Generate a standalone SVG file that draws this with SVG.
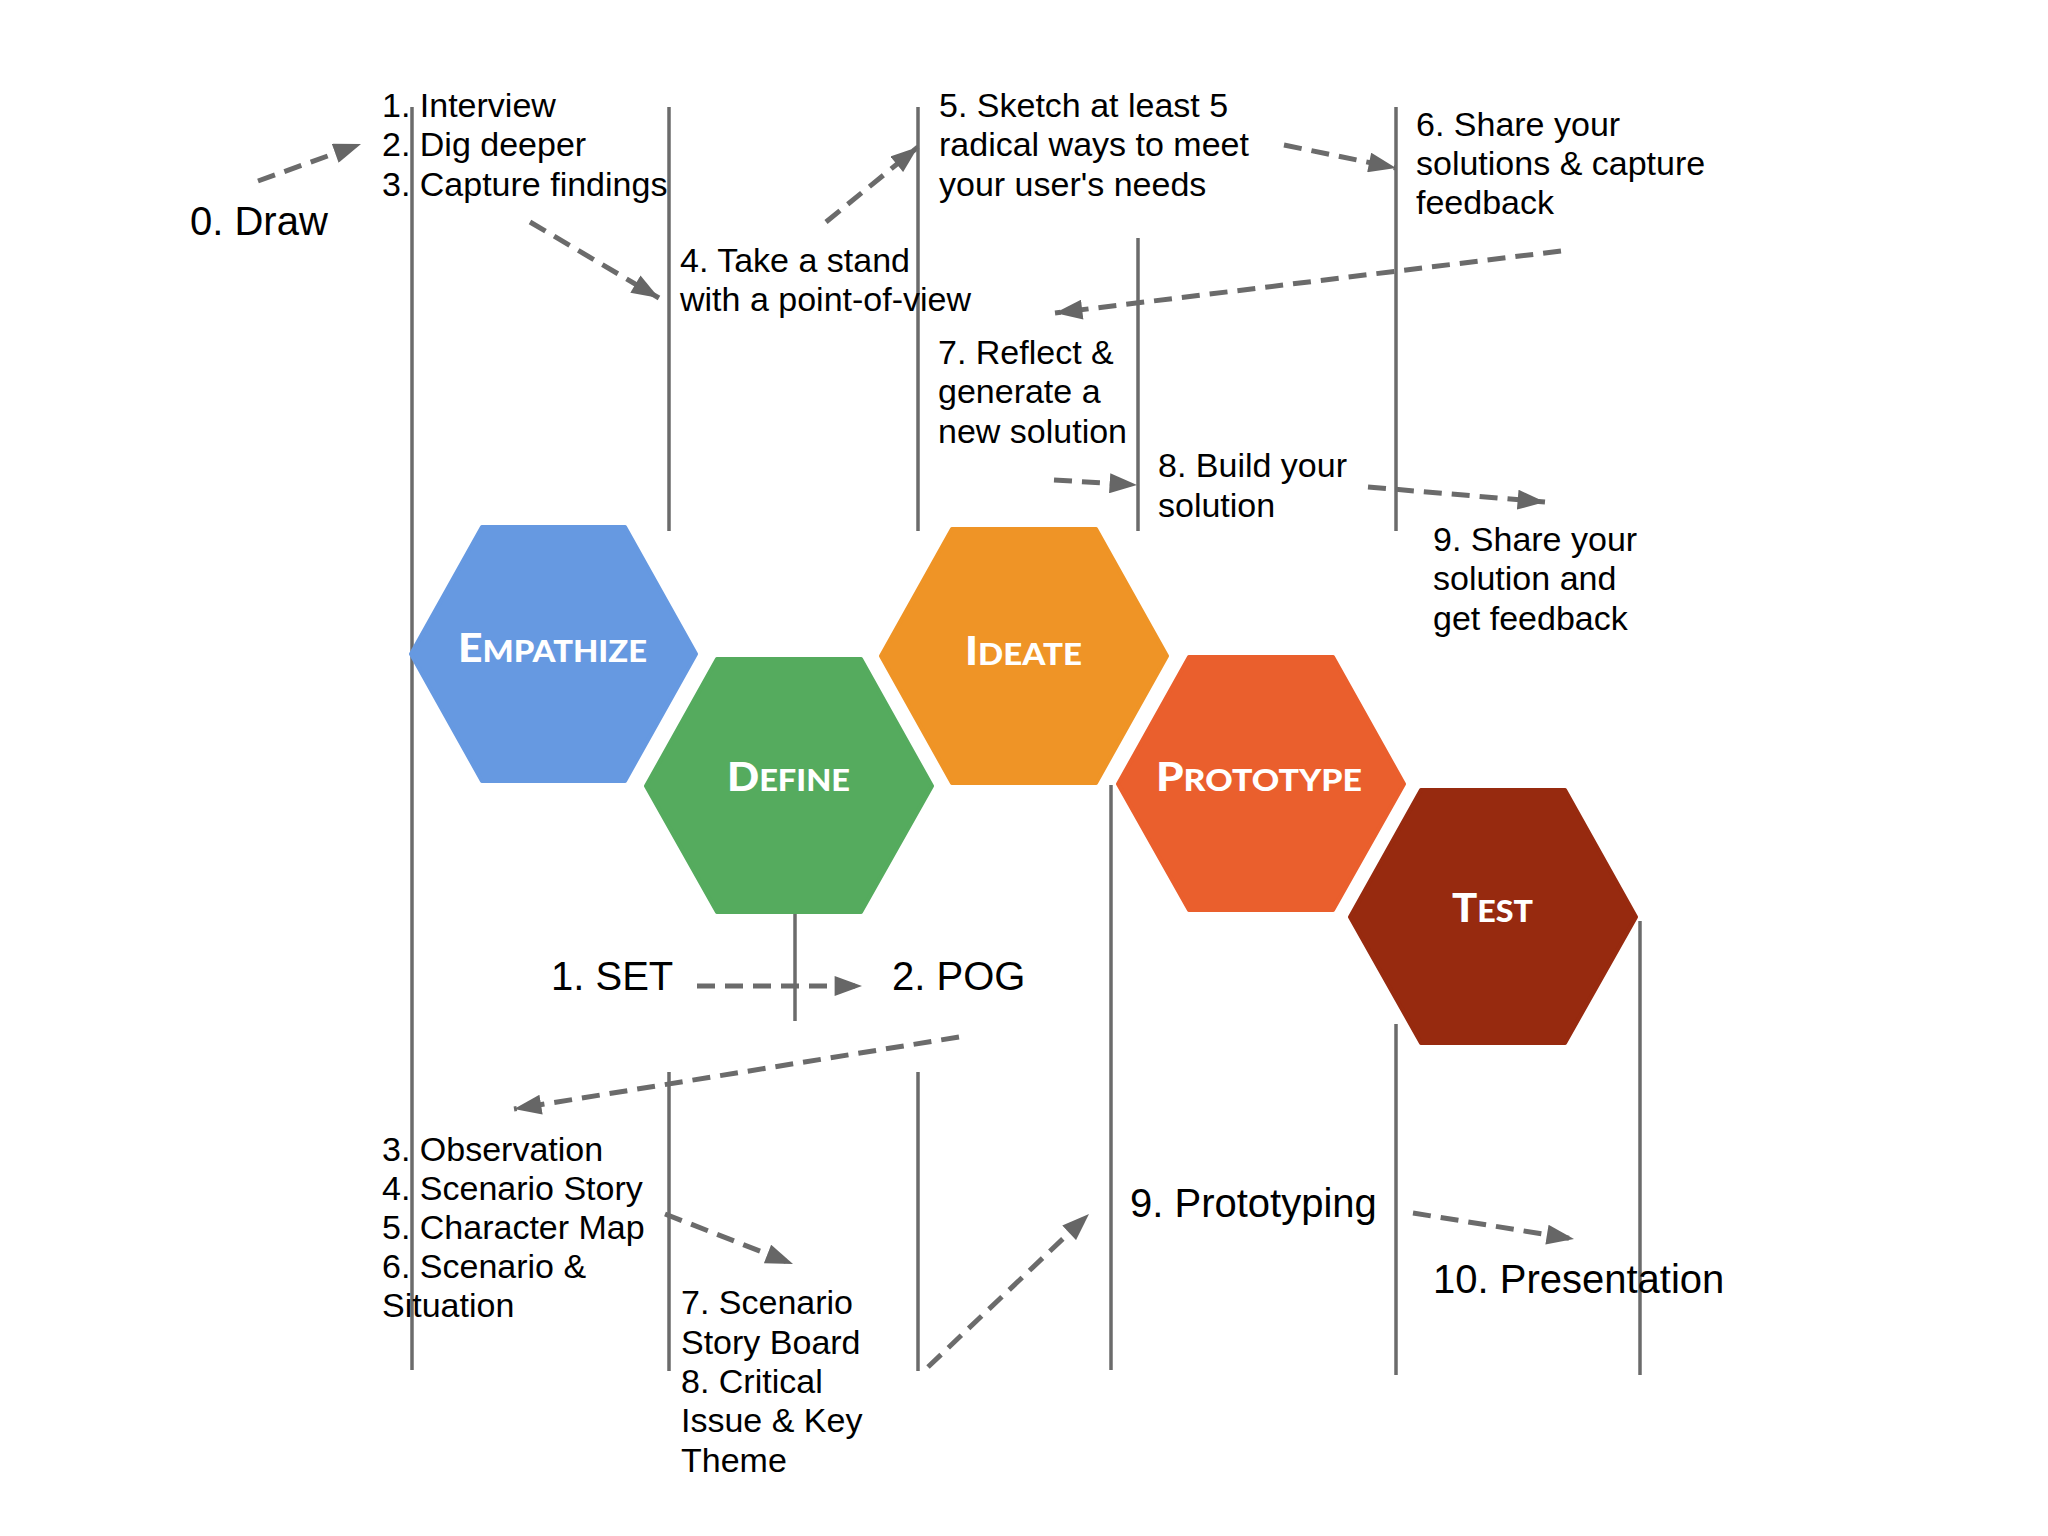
<svg xmlns="http://www.w3.org/2000/svg" width="2048" height="1536" viewBox="0 0 2048 1536">
<defs>
<marker id="ah" markerUnits="userSpaceOnUse" markerWidth="28" markerHeight="20" viewBox="0 0 26 19" refX="26" refY="9.5" orient="auto">
<path d="M0,0 L26,9.5 L0,19 z" fill="#666666"/>
</marker>
</defs>
<style>
.vl{stroke:#6b6b6b;stroke-width:3.5;fill:none}
.da{stroke:#6b6b6b;stroke-width:5;fill:none;stroke-dasharray:18 10;marker-end:url(#ah)}
.t{font-family:"Liberation Sans",Arial,sans-serif;font-size:34px;fill:#000}
.tl{font-family:"Liberation Sans",Arial,sans-serif;font-size:40px;fill:#000}
.hx{stroke-width:4;stroke-linejoin:round}
.hl{font-family:Lato,"Open Sans","Liberation Sans",sans-serif;font-weight:900;fill:#ffffff;font-size:30px}
.cap{font-size:39px}
</style>
<rect width="2048" height="1536" fill="#ffffff"/>
<g id="lines">
<line class="vl" x1="412" y1="107" x2="412" y2="1370"/>
<line class="vl" x1="669" y1="107" x2="669" y2="531"/>
<line class="vl" x1="669" y1="1072" x2="669" y2="1371"/>
<line class="vl" x1="918" y1="107" x2="918" y2="531"/>
<line class="vl" x1="918" y1="1072" x2="918" y2="1371"/>
<line class="vl" x1="1138" y1="238" x2="1138" y2="531"/>
<line class="vl" x1="1396" y1="107" x2="1396" y2="531"/>
<line class="vl" x1="1396" y1="1024" x2="1396" y2="1375"/>
<line class="vl" x1="1111" y1="785" x2="1111" y2="1370"/>
<line class="vl" x1="795" y1="912" x2="795" y2="1021"/>
<line class="vl" x1="1640" y1="921" x2="1640" y2="1375"/>
</g>
<g id="empathize">
<polygon class="hx" fill="#6699e1" stroke="#6699e1" points="482,527 625,527 696,654 625,781 482,781 411,654"/>
<text class="hl" x="458" y="662" textLength="189" lengthAdjust="spacingAndGlyphs"><tspan class="cap">E</tspan>MPATHIZE</text>
</g>
<g id="define">
<polygon class="hx" fill="#55ab5e" stroke="#55ab5e" points="717,659 861,659 932,786 861,912 717,912 646,786"/>
<text class="hl" x="727" y="791" textLength="123" lengthAdjust="spacingAndGlyphs"><tspan class="cap">D</tspan>EFINE</text>
</g>
<g id="ideate">
<polygon class="hx" fill="#ef9426" stroke="#ef9426" points="952,529 1096,529 1167,656 1096,783 952,783 881,656"/>
<text class="hl" x="965" y="665" textLength="117" lengthAdjust="spacingAndGlyphs"><tspan class="cap">I</tspan>DEATE</text>
</g>
<g id="prototype">
<polygon class="hx" fill="#ea5f2d" stroke="#ea5f2d" points="1189,657 1333,657 1404,784 1333,910 1189,910 1118,784"/>
<text class="hl" x="1156" y="791" textLength="206" lengthAdjust="spacingAndGlyphs"><tspan class="cap">P</tspan>ROTOTYPE</text>
</g>
<g id="test">
<polygon class="hx" fill="#972a0f" stroke="#972a0f" points="1421,790 1565,790 1636,917 1565,1043 1421,1043 1350,917"/>
<text class="hl" x="1452" y="922" textLength="81" lengthAdjust="spacingAndGlyphs"><tspan class="cap">T</tspan>EST</text>
</g>
<g id="connectors">
<line class="da" x1="258" y1="181" x2="361" y2="144"/>
<line class="da" x1="530" y1="222" x2="659" y2="298"/>
<line class="da" x1="826" y1="222" x2="918" y2="147"/>
<line class="da" x1="1284" y1="145" x2="1396" y2="168"/>
<line class="da" x1="1561" y1="251" x2="1055" y2="313"/>
<line class="da" x1="1054" y1="480" x2="1137" y2="485"/>
<line class="da" x1="1368" y1="487" x2="1545" y2="502"/>
<line class="da" x1="697" y1="986" x2="862" y2="986"/>
<line class="da" x1="959" y1="1037" x2="514" y2="1109"/>
<line class="da" x1="665" y1="1214" x2="793" y2="1264"/>
<line class="da" x1="928" y1="1367" x2="1089" y2="1214"/>
<line class="da" x1="1413" y1="1213" x2="1574" y2="1239"/>
</g>
<g id="step0">
<text class="tl" x="190" y="235">0. Draw</text>
</g>
<g id="steps1-3">
<text class="t" x="382" y="117">1. Interview</text>
<text class="t" x="382" y="156">2. Dig deeper</text>
<text class="t" x="382" y="196">3. Capture findings</text>
</g>
<g id="step4">
<text class="t" x="680" y="272">4. Take a stand</text>
<text class="t" x="680" y="311">with a point-of-view</text>
</g>
<g id="step5">
<text class="t" x="939" y="117">5. Sketch at least 5</text>
<text class="t" x="939" y="156">radical ways to meet</text>
<text class="t" x="939" y="196">your user's needs</text>
</g>
<g id="step6">
<text class="t" x="1416" y="136">6. Share your</text>
<text class="t" x="1416" y="175">solutions &amp; capture</text>
<text class="t" x="1416" y="214">feedback</text>
</g>
<g id="step7">
<text class="t" x="938" y="364">7. Reflect &amp;</text>
<text class="t" x="938" y="403">generate a</text>
<text class="t" x="938" y="443">new solution</text>
</g>
<g id="step8">
<text class="t" x="1158" y="477">8. Build your</text>
<text class="t" x="1158" y="517">solution</text>
</g>
<g id="step9">
<text class="t" x="1433" y="551">9. Share your</text>
<text class="t" x="1433" y="590">solution and</text>
<text class="t" x="1433" y="630">get feedback</text>
</g>
<g id="set">
<text class="tl" x="551" y="990">1. SET</text>
</g>
<g id="pog">
<text class="tl" x="892" y="990">2. POG</text>
</g>
<g id="steps3-6b">
<text class="t" x="382" y="1161">3. Observation</text>
<text class="t" x="382" y="1200">4. Scenario Story</text>
<text class="t" x="382" y="1239">5. Character Map</text>
<text class="t" x="382" y="1278">6. Scenario &amp;</text>
<text class="t" x="382" y="1317">Situation</text>
</g>
<g id="steps7-8b">
<text class="t" x="681" y="1314">7. Scenario</text>
<text class="t" x="681" y="1354">Story Board</text>
<text class="t" x="681" y="1393">8. Critical</text>
<text class="t" x="681" y="1432">Issue &amp; Key</text>
<text class="t" x="681" y="1472">Theme</text>
</g>
<g id="prototyping">
<text class="tl" x="1130" y="1217">9. Prototyping</text>
</g>
<g id="presentation">
<text class="tl" x="1433" y="1293">10. Presentation</text>
</g>
</svg>
